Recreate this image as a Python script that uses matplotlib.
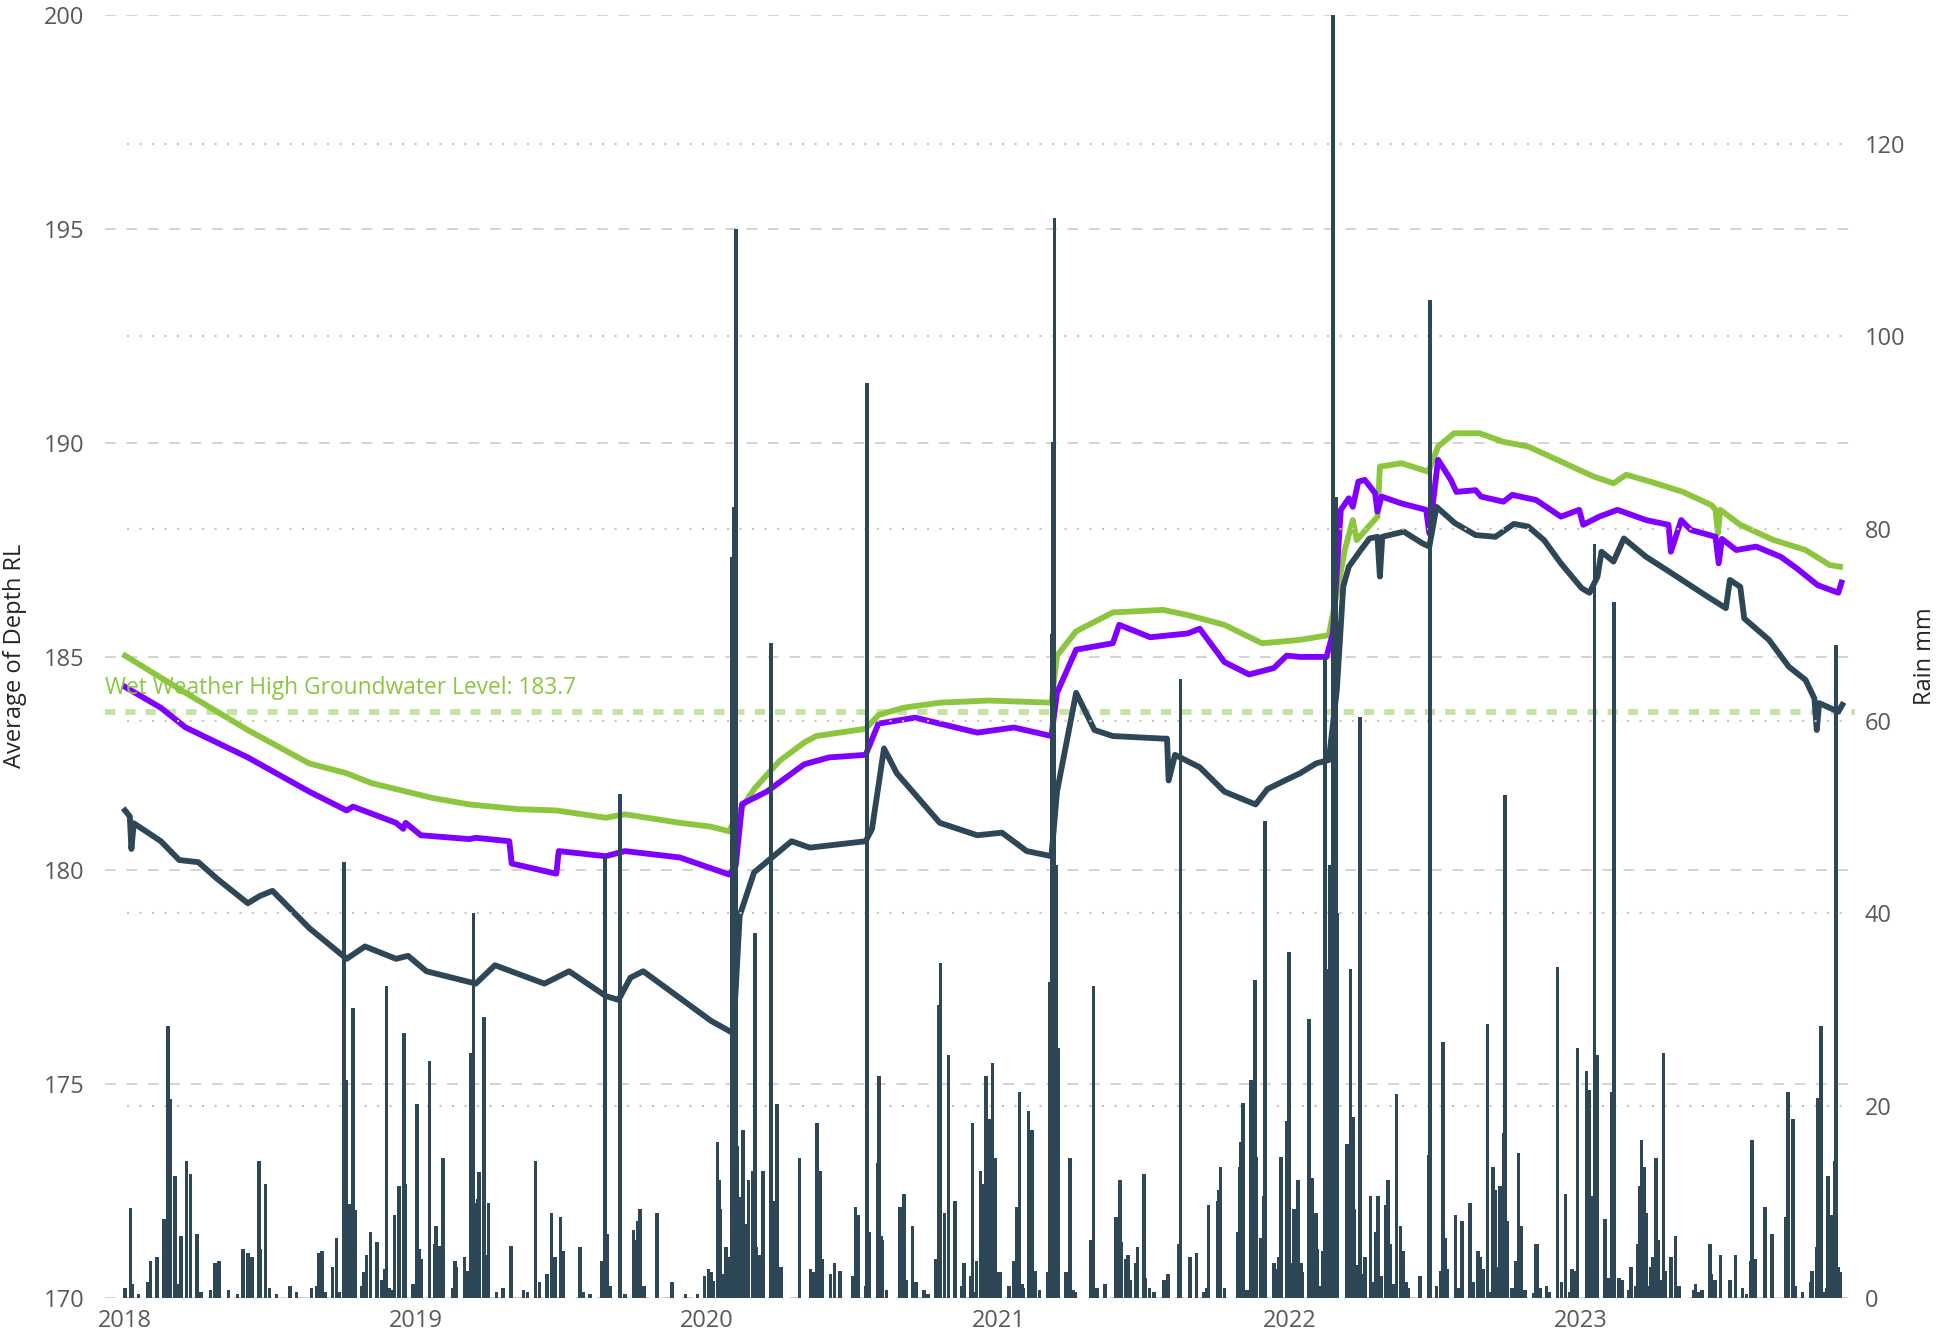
import pandas as pd
import matplotlib.pyplot as plt
import matplotlib.dates as mdates

plt.rcParams['font.family'] = ['Open Sans', 'DejaVu Sans']

# Données (jours depuis le 1er janvier 2018)
start = pd.Timestamp("2018-01-01")

green_day = [0, 76, 154, 231, 278, 309, 386, 432, 494, 541, 603, 627, 696, 735, 758, 766, 790, 821, 852, 867,
             929, 945, 976, 1022, 1084, 1162, 1169, 1193, 1239, 1302, 1333, 1379, 1426, 1457, 1474, 1510, 1520,
             1530, 1540, 1545, 1560, 1571, 1574, 1601, 1635, 1647, 1667, 1699, 1729, 1760, 1801, 1842, 1867,
             1883, 1913, 1954, 1990, 1995, 1998, 2001, 2026, 2067, 2108, 2138, 2151]
green_val = [185.02, 184.15, 183.28, 182.5, 182.27, 182.04, 181.69, 181.54, 181.43, 181.40, 181.23, 181.31,
             181.11, 181.02, 180.91, 181.26, 181.92, 182.56, 182.99, 183.14, 183.31, 183.63, 183.80, 183.92,
             183.97, 183.92, 185.02, 185.59, 186.03, 186.09, 185.97, 185.74, 185.31, 185.36, 185.39, 185.50,
             186.48, 187.49, 188.19, 187.72, 188.04, 188.27, 189.44, 189.52, 189.32, 189.91, 190.22, 190.22,
             190.02, 189.91, 189.56, 189.21, 189.05, 189.25, 189.09, 188.85, 188.54, 188.43, 187.88, 188.43,
             188.08, 187.73, 187.49, 187.14, 187.10]

purple_day = [0, 45, 76, 154, 231, 278, 286, 340, 349, 352, 371, 432, 440, 482, 485, 541, 544, 603, 627, 696,
              758, 766, 774, 805, 852, 883, 929, 945, 991, 1069, 1115, 1162, 1169, 1193, 1239, 1247, 1286, 1333,
              1348, 1379, 1410, 1441, 1457, 1474, 1507, 1515, 1525, 1535, 1540, 1547, 1555, 1568, 1571, 1576,
              1601, 1632, 1636, 1647, 1663, 1670, 1694, 1701, 1729, 1740, 1770, 1801, 1824, 1829, 1849, 1872,
              1908, 1936, 1939, 1952, 1964, 1995, 1999, 2003, 2021, 2046, 2077, 2097, 2123, 2149, 2153]
purple_val = [184.29, 183.8, 183.34, 182.64, 181.84, 181.40, 181.49, 181.11, 180.97, 181.11, 180.82, 180.73,
              180.76, 180.68, 180.16, 179.92, 180.45, 180.33, 180.45, 180.30, 179.90, 180.10, 181.55, 181.84,
              182.48, 182.64, 182.70, 183.43, 183.57, 183.22, 183.34, 183.14, 184.15, 185.16, 185.31, 185.74,
              185.45, 185.54, 185.65, 184.87, 184.58, 184.73, 185.02, 184.99, 184.99, 185.54, 188.43, 188.70,
              188.50, 189.09, 189.13, 188.82, 188.39, 188.74, 188.58, 188.43, 187.88, 189.60, 189.13, 188.85,
              188.89, 188.74, 188.62, 188.78, 188.66, 188.27, 188.43, 188.08, 188.27, 188.43, 188.19, 188.08,
              187.45, 188.19, 187.96, 187.80, 187.18, 187.75, 187.49, 187.57, 187.33, 187.06, 186.67, 186.49,
              186.73]

dark_day = [0, 6, 8, 11, 45, 68, 92, 115, 154, 169, 185, 231, 278, 301, 340, 355, 378, 440, 464, 526,
            557, 603, 619, 634, 650, 735, 763, 771, 789, 836, 859, 929, 937, 952, 968, 1022, 1069, 1100, 1131,
            1162, 1169, 1193, 1216, 1239, 1302, 1307, 1309, 1317, 1348, 1379, 1418, 1433, 1457, 1474, 1494,
            1510, 1520, 1528, 1535, 1550, 1561, 1571, 1574, 1577, 1604, 1627, 1636, 1645, 1668, 1694, 1719,
            1742, 1760, 1780, 1801, 1827, 1837, 1847, 1852, 1867, 1880, 1908, 1934, 1985, 2008, 2013, 2026,
            2031, 2062, 2087, 2108, 2119, 2122, 2125, 2149, 2154]
dark_val = [181.40, 181.26, 180.5, 181.1, 180.68, 180.24, 180.19, 179.81, 179.23, 179.4, 179.52, 178.65,
            177.93, 178.22, 177.93, 178.0, 177.64, 177.35, 177.78, 177.35, 177.64, 177.06, 176.97, 177.49,
            177.64, 176.48, 176.19, 178.94, 179.95, 180.68, 180.53, 180.68, 180.97, 182.85, 182.27, 181.11,
            180.82, 180.88, 180.45, 180.33, 181.84, 184.15, 183.28, 183.14, 183.08, 183.08, 182.1, 182.70,
            182.41, 181.84, 181.54, 181.9, 182.12, 182.27, 182.50, 182.58, 184.22, 186.63, 187.10, 187.49,
            187.76, 187.80, 186.87, 187.80, 187.92, 187.65, 187.57, 188.50, 188.12, 187.84, 187.80, 188.10,
            188.04, 187.72, 187.18, 186.60, 186.49, 186.87, 187.45, 187.22, 187.76, 187.33, 187.02, 186.40,
            186.13, 186.79, 186.63, 185.89, 185.39, 184.76, 184.45, 184.02, 183.28, 183.91, 183.71, 183.87]

rain_day = [0, 7, 9, 17, 28, 32, 40, 49, 54, 57, 63, 66, 70, 77, 82, 90, 95, 107, 113, 118, 130, 141, 148, 154,
            159, 168, 170, 176, 181, 190, 207, 215, 234, 240, 243, 247, 251, 260, 265, 269, 275, 278, 282, 286,
            289, 297, 300, 303, 308, 316, 322, 326, 328, 331, 335, 338, 344, 350, 352, 361,
            366, 369, 372, 382, 388, 390, 395, 399, 411, 414, 416, 426, 430, 434, 437, 440, 442, 444, 450, 452,
            456, 466, 474, 484, 500, 505, 515, 520, 529, 535, 539, 546, 549, 571, 575, 583, 598, 602, 605, 609,
            621, 627, 638, 641, 643, 646, 651, 667, 686, 703, 718,
            727, 732, 735, 738, 743, 745, 747, 750, 754, 757, 759, 761, 763, 766, 768, 770, 775, 779, 782, 787,
            790, 792, 795, 800, 810, 813, 818, 820, 823, 846, 860, 863, 868, 872, 874, 885, 890, 897, 913, 916,
            920, 929, 931, 934, 944, 946, 948, 950, 955, 972, 977, 980, 988, 992, 1002, 1007, 1017, 1021, 1023,
            1028, 1033, 1041, 1049, 1052, 1061, 1063, 1066, 1068, 1073, 1076, 1080, 1082, 1084, 1088, 1092, 1094,
            1098, 1109, 1115, 1118, 1122, 1125, 1127, 1133, 1136, 1138, 1142, 1147, 1157, 1160, 1162, 1164, 1166,
            1168, 1171, 1180, 1185, 1189, 1192, 1211, 1215, 1219, 1229, 1243, 1248, 1250, 1255, 1258, 1261, 1268,
            1270, 1278, 1280, 1285, 1291, 1303, 1308, 1322, 1324, 1336, 1344, 1353, 1357, 1359, 1371, 1372, 1374,
            1379, 1396, 1398, 1400, 1402, 1407, 1412, 1417, 1419, 1425, 1428, 1430, 1441, 1444, 1447, 1450, 1457,
            1460, 1464, 1466, 1471,
            1475, 1477, 1485, 1489, 1494, 1496, 1499, 1503, 1505, 1508, 1511, 1515, 1519, 1521, 1533, 1537, 1540,
            1542, 1545, 1549, 1551, 1555, 1562, 1565, 1569, 1572, 1576, 1582, 1584, 1587, 1592, 1595, 1600, 1603,
            1607, 1610, 1624, 1635, 1637, 1645, 1651, 1653, 1656, 1659, 1669, 1673, 1677, 1687, 1691, 1697, 1700,
            1703, 1709, 1711, 1716, 1719, 1722, 1725, 1729, 1731, 1734, 1740, 1745, 1748, 1751, 1756, 1767, 1769,
            1771, 1775, 1783, 1787, 1797, 1802, 1807, 1812, 1815, 1818, 1822, 1833, 1837, 1840, 1843, 1846,
            1856, 1860, 1865, 1868, 1874, 1878, 1886, 1889, 1895, 1898, 1900, 1902, 1905, 1908, 1911, 1914, 1916,
            1920, 1923, 1926, 1930, 1932, 1939, 1945, 1949, 1968, 1970, 1974, 1978, 1988, 1990, 1994, 2001, 2013,
            2020, 2029, 2034, 2039, 2041, 2045, 2057, 2066, 2083, 2086, 2092, 2095, 2104, 2114, 2116, 2122, 2123,
            2127, 2130, 2135, 2136, 2139, 2141, 2144, 2146, 2149, 2151]
rain_mm = [1.0, 9.4, 1.5, 0.4, 1.7, 3.8, 4.3, 8.2, 28.3, 20.7, 12.7, 1.5, 6.4, 14.2, 12.9, 6.7, 0.6, 0.8, 3.6, 3.8,
           0.8, 0.4, 5.1, 4.7, 4.3, 14.2, 5.1, 11.9, 1.0, 0.4, 1.2, 0.6, 1.0, 1.2, 4.7, 4.9, 0.6, 3.2, 6.2, 0.6,
           45.3, 22.7, 9.8, 30.2, 9.1, 1.2, 2.7, 4.5, 6.9, 5.8, 1.9, 3.0, 32.4, 1.0, 0.8, 8.6, 11.6, 27.5, 11.9,
           1.5,
           20.2, 5.1, 4.1, 24.6, 5.6, 7.5, 5.4, 14.5, 1.0, 3.8, 3.2, 4.3, 2.8, 25.5, 40.0, 9.9, 10.3, 13.1, 29.2,
           4.5, 9.9, 0.6, 1.0, 5.4, 0.8, 0.6, 14.2, 1.7, 2.5, 8.8, 4.3, 8.4, 4.9, 5.3, 0.6, 0.4, 3.8, 46.0, 6.7,
           1.2, 52.4, 0.4, 7.1, 6.0, 8.0, 9.3, 1.2, 8.8, 1.7, 0.4, 0.4,
           2.3, 3.0, 2.7, 1.8, 16.2, 12.3, 9.3, 2.5, 5.3, 2.3, 4.3, 77.0, 82.2, 111.2, 15.8, 10.5, 17.5, 7.7,
           12.3, 13.2, 38.0, 5.3, 4.5, 13.2, 68.1, 10.1, 20.2, 2.3, 3.2, 14.5, 3.0, 2.7, 18.2, 13.2, 4.1, 2.5,
           3.6, 2.8, 2.3, 9.5, 8.6, 1.2, 95.1, 6.9, 14.0, 23.1, 6.4, 6.0, 0.8, 9.5, 10.8, 1.9, 7.5, 1.7, 0.8, 0.4,
           4.1, 30.5, 34.8, 8.8, 25.3, 10.1, 1.2, 3.6, 2.3, 18.2, 0.6, 3.8, 13.2, 11.9, 23.1, 2.7, 18.6, 24.4,
           14.5, 2.7,
           2.7, 1.2, 3.8, 9.5, 21.4, 1.5, 1.0, 19.4, 3.6, 17.5, 2.8, 0.8, 2.7, 32.9, 69.0, 89.0, 112.3, 45.0,
           26.0, 2.7, 14.5, 0.8, 0.6, 6.0, 32.4, 1.0, 1.5, 8.4, 12.3, 5.8, 4.1, 4.5, 1.9, 3.6, 5.3, 12.9, 2.1,
           1.0, 0.6, 1.9, 2.5, 5.6, 64.4, 4.3, 4.7, 0.6, 1.0, 9.7, 10.1, 11.2, 13.6, 1.0, 6.9, 13.6, 16.2, 20.3,
           0.8, 22.7, 33.1, 14.7, 6.2, 10.6, 49.6, 3.6, 3.0, 4.3, 14.7, 18.4, 36.0, 3.6, 9.3, 12.3,
           3.6, 2.7, 29.0, 12.5, 8.8, 5.1, 1.2, 4.9, 66.7, 34.2, 45.0, 140.0, 83.3, 40.0, 16.0, 34.2, 18.8, 9.3,
           3.4, 60.4, 2.5, 4.3, 10.6, 1.7, 6.9, 10.6, 2.3, 9.7, 12.3, 5.6, 1.5, 21.2, 7.5, 4.9, 1.7, 1.0, 2.3,
           14.9, 103.8, 1.2, 2.8, 26.6, 6.2, 3.0, 8.6, 1.0, 8.0, 9.9, 1.7, 4.9, 4.3, 3.0, 28.5, 0.6, 13.6, 11.2,
           3.2, 11.6, 17.1, 52.3, 8.0, 1.0, 3.8, 15.1, 7.5, 0.8, 0.5, 5.6, 5.6, 1.0, 1.2, 0.6, 34.4, 1.7, 10.8,
           0.6, 3.0, 2.8, 26.0, 23.6, 21.6, 10.6, 78.4, 25.3,
           8.2, 2.1, 21.4, 72.4, 2.1, 1.9, 0.8, 3.2, 1.2, 5.6, 11.6, 16.4, 13.6, 8.8, 1.2, 3.2, 4.3, 14.5, 6.0,
           1.9, 25.5, 2.8, 4.3, 6.4, 1.2, 0.8, 1.5, 0.6, 0.8, 5.6, 2.5, 1.9, 4.5, 1.9, 4.5, 1.0, 0.4, 3.8, 16.4,
           4.1, 9.5, 6.7, 8.4, 21.4, 18.6, 1.2, 0.6, 1.7, 2.8, 5.3, 20.8, 28.3, 0.6, 1.0, 12.7, 2.1, 8.6, 14.2,
           67.9, 3.2, 2.7]

wet_weather_level = 183.7

def to_dates(days):
    return start + pd.to_timedelta(days, unit="D")

green_c = "#8cc63e"
purple_c = "#8000ff"
dark_c = "#2e4756"
tick_c = "#595959"

fig = plt.figure(figsize=(19.39, 13.33), dpi=100)
ax = fig.add_axes([0.0542, 0.0263, 0.9025, 0.9624])
ax2 = ax.twinx()

# Courbes de niveau
ax.plot(to_dates(green_day), green_val, color=green_c, lw=4.2, solid_joinstyle="round")
ax.plot(to_dates(purple_day), purple_val, color=purple_c, lw=4.2, solid_joinstyle="round")
ax.plot(to_dates(dark_day), dark_val, color=dark_c, lw=4.2, solid_joinstyle="round")

# Niveau de référence
ax.axhline(wet_weather_level, color="#c6e2a6", lw=4.3, linestyle=(0, (1.7, 1.7)),
           dash_capstyle="butt", zorder=1)
ax.text(0.0, wet_weather_level + 0.28, "Wet Weather High Groundwater Level: 183.7",
        transform=ax.get_yaxis_transform(), color=green_c, fontsize=16.4, va="bottom", ha="left")

# Pluie
ax2.bar(to_dates(rain_day), rain_mm, width=4.5, color=dark_c, linewidth=0)

ax.set_ylim(170, 200)
ax2.set_ylim(0, 133.4)
ax.set_xlim(pd.Timestamp("2017-12-07"), pd.Timestamp("2023-12-11"))

ax.set_yticks([170, 175, 180, 185, 190, 195, 200])
ax2.set_yticks([0, 20, 40, 60, 80, 100, 120])
ax.xaxis.set_major_locator(mdates.YearLocator())
ax.xaxis.set_major_formatter(mdates.DateFormatter("%Y"))

for a in (ax, ax2):
    for s in a.spines.values():
        s.set_visible(False)
    a.tick_params(length=0, colors=tick_c, labelsize=17)
ax.tick_params(axis="y", pad=15)
ax2.tick_params(axis="y", pad=7)
ax.tick_params(axis="x", pad=8)

# Grilles
for y in [170, 175, 180, 185, 190, 195, 200]:
    ax.axhline(y, color="#c8c8c8", lw=1.1, linestyle=(0, (7, 7)), zorder=0)
for y in [20, 40, 60, 80, 100, 120]:
    ax2.axhline(y, xmin=0.0125, xmax=0.994, color="#c4c4c4", lw=1.5, linestyle=(0, (1, 5)), zorder=0)

# Titres des axes
fig.text(0.0077, 0.508, "Average of Depth RL", rotation=90, fontsize=17, color="#252525",
         ha="center", va="center")
fig.text(0.9928, 0.508, "Rain mm", rotation=90, fontsize=17, color="#252525",
         ha="center", va="center")

plt.savefig("out.png", dpi=100)
